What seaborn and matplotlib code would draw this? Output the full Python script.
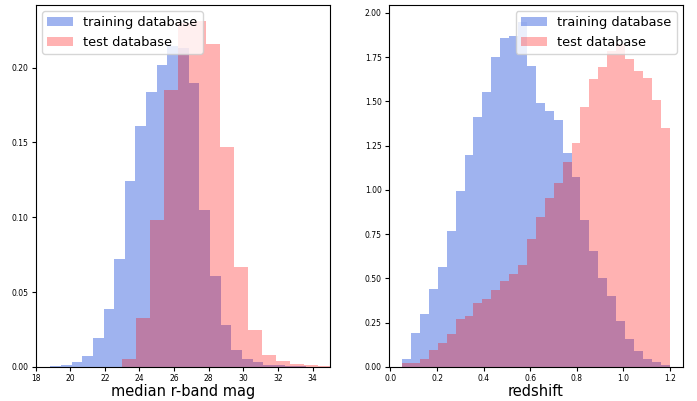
import numpy as np
import seaborn as sns
import matplotlib.pyplot as plt

# left panel: median r-band magnitude (density per bin)
mag_train_edges = list(18.85 + 0.615 * np.arange(27))
mag_train = [0.0005, 0.001, 0.003, 0.007, 0.019, 0.039, 0.072, 0.124, 0.161, 0.184,
             0.202, 0.2145, 0.213, 0.190, 0.105, 0.061, 0.028, 0.011, 0.005, 0.003,
             0.0015, 0.001, 0.0005, 0.0003, 0.0002, 0.0001]
mag_test_edges = list(23.0 + 0.81 * np.arange(16))
mag_test = [0.0055, 0.033, 0.098, 0.185, 0.230, 0.231, 0.216, 0.147, 0.067, 0.025,
            0.008, 0.004, 0.002, 0.001, 0.0005]

# right panel: redshift
z_edges = list(np.linspace(0.05, 1.2, 31))
z_train = [0.043, 0.193, 0.30, 0.44, 0.565, 0.77, 0.995, 1.197, 1.413, 1.555,
           1.75, 1.86, 1.87, 1.947, 1.70, 1.493, 1.447, 1.394, 1.206, 1.07,
           0.827, 0.655, 0.503, 0.403, 0.26, 0.16, 0.09, 0.043, 0.025, 0.012]
z_test = [0.02, 0.02, 0.045, 0.095, 0.135, 0.185, 0.27, 0.29, 0.36, 0.385,
          0.435, 0.485, 0.525, 0.575, 0.72, 0.845, 0.955, 1.04, 1.16, 1.265,
          1.47, 1.625, 1.695, 1.785, 1.825, 1.74, 1.67, 1.63, 1.51, 1.35]


def centers(edges):
    edges = np.asarray(edges)
    return (edges[:-1] + edges[1:]) / 2


def draw(ax, tr_edges, tr, te_edges, te):
    sns.histplot(x=centers(tr_edges), weights=np.asarray(tr), bins=tr_edges, ax=ax,
                 color='royalblue', alpha=0.5, linewidth=0, label='training database')
    sns.histplot(x=centers(te_edges), weights=np.asarray(te), bins=te_edges, ax=ax,
                 color='red', alpha=0.3, linewidth=0, label='test database')
    ax.set_ylabel('')
    ax.tick_params(labelsize=5.5, length=3, pad=2)


fig, (ax1, ax2) = plt.subplots(1, 2, figsize=(6.97, 4.01), dpi=100)
fig.subplots_adjust(left=0.051, right=0.98, top=0.988, bottom=0.085, wspace=0.2)

draw(ax1, mag_train_edges, mag_train, mag_test_edges, mag_test)
ax1.set_xlim(18, 35)
ax1.set_ylim(0, 0.242)
ax1.set_xlabel('median r-band mag', fontsize=10.5, labelpad=1)
ax1.legend(loc='upper left', fontsize=9.3)

draw(ax2, z_edges, z_train, z_edges, z_test)
ax2.set_ylim(0, 2.045)
ax2.set_xlabel('redshift', fontsize=10.5, labelpad=1)
ax2.legend(loc='upper right', fontsize=9.3)

plt.savefig('out.png')
